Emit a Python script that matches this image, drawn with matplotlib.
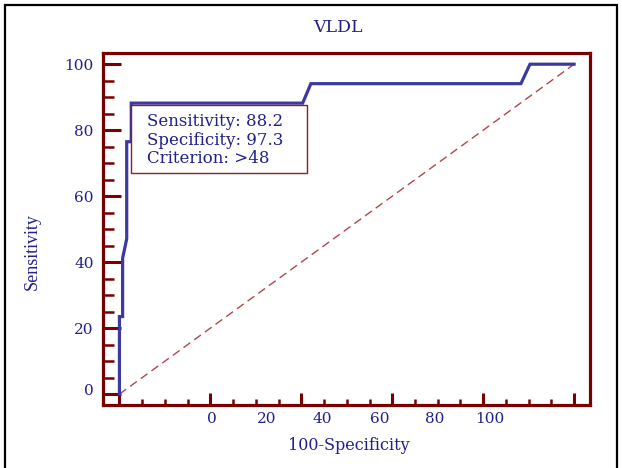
"""ROC curve for VLDL (MedCalc style) -- recreated with matplotlib."""

import matplotlib

matplotlib.use("Agg")
import matplotlib.pyplot as plt
import matplotlib.transforms as mtransforms
from matplotlib.patches import Rectangle
from matplotlib.ticker import MultipleLocator

# ROC curve points (100-Specificity, Sensitivity)
FPR = [0, 0, 0.7, 0.7, 1.6, 1.6, 2.6, 2.6, 40.3, 42.1, 88.3, 90.3, 100]
TPR = [0, 23.5, 23.5, 41.2, 47.1, 76.5, 76.5, 88.2, 88.2, 94.1, 94.1, 100, 100]

# x tick labels as printed on the original (shifted relative to the ticks)
XLABELS = ["0", "20", "40", "60", "80", "100"]
XLABEL_POS = [20.3, 32.4, 44.5, 57.2, 69.4, 81.4]

BOX_LINES = ["Sensitivity: 88.2", "Specificity: 97.3", "Criterion: >48"]

AXIS_RED = "#780000"
CURVE_BLUE = "#3a3aa0"
TEXT_BLUE = "#20208a"
SERIF = ["DejaVu Serif"]


def main() -> None:
    fig = plt.figure(figsize=(6.22, 4.68), dpi=100)
    ax = fig.add_axes([0.166, 0.1346, 0.7826, 0.7522])

    ax.plot([0, 100], [0, 100], color="#b04848", lw=1.0, ls=(0, (6, 3.5)), zorder=2)
    ax.plot(FPR, TPR, color=CURVE_BLUE, lw=2.3, zorder=3, solid_joinstyle="miter")

    ax.set_xlim(-3.56, 103.5)
    ax.set_ylim(-3.3, 103.4)

    for s in ax.spines.values():
        s.set_color(AXIS_RED)
        s.set_linewidth(2.3)

    ax.xaxis.set_major_locator(MultipleLocator(20))
    ax.xaxis.set_minor_locator(MultipleLocator(5))
    ax.yaxis.set_major_locator(MultipleLocator(20))
    ax.yaxis.set_minor_locator(MultipleLocator(5))
    ax.tick_params(axis="x", which="major", direction="in", length=9, width=2.2,
                   color=AXIS_RED, labelbottom=False)
    ax.tick_params(axis="x", which="minor", direction="in", length=4.5, width=1.8,
                   color=AXIS_RED)
    ax.tick_params(axis="y", which="major", direction="in", length=13, width=2.2,
                   color=AXIS_RED, pad=7, labelsize=11, labelcolor=TEXT_BLUE)
    ax.tick_params(axis="y", which="minor", direction="in", length=8, width=1.8,
                   color=AXIS_RED)
    fig.canvas.draw()
    for lab in ax.get_yticklabels():
        lab.set_family(SERIF)
        if lab.get_text() == "0":
            # the original prints its 0 a few pixels above the tick
            lab.set_transform(lab.get_transform() + mtransforms.ScaledTranslation(
                0, 5 / 100, fig.dpi_scale_trans))

    for pos, lab in zip(XLABEL_POS, XLABELS):
        ax.text(pos, -0.02, lab, transform=ax.get_xaxis_transform(), ha="center",
                va="top", fontsize=11, color=TEXT_BLUE, family=SERIF)

    # criterion box
    ax.add_patch(Rectangle((2.46, 66.9), 41.3 - 2.46, 87.6 - 66.9, facecolor="white",
                           edgecolor="#8a2020", lw=1.0, zorder=4))
    for y, line in zip([82.6, 77.0, 71.5], BOX_LINES):
        ax.text(6.0, y, line, ha="left", va="center", fontsize=12, color=TEXT_BLUE,
                family=SERIF, zorder=5)

    fig.text(338 / 622, 1 - 28 / 468, "VLDL", ha="center", va="center", fontsize=12.5,
             color=TEXT_BLUE, family=SERIF)
    fig.text(349 / 622, 1 - 446 / 468, "100-Specificity", ha="center", va="center",
             fontsize=11.5, color=TEXT_BLUE, family=SERIF)
    fig.text(32 / 622, 1 - 252 / 468, "Sensitivity", ha="center", va="center",
             rotation=90, fontsize=13, color=TEXT_BLUE, family=["Liberation Serif"])

    # outer frame of the original screenshot
    fig.patches.append(Rectangle((5 / 622, -0.1), 612 / 622, 1 - 5 / 468 + 0.1,
                                 transform=fig.transFigure, fill=False,
                                 edgecolor="black", lw=1.6))

    fig.savefig("out.png", dpi=100)
    plt.close(fig)


if __name__ == "__main__":
    main()
